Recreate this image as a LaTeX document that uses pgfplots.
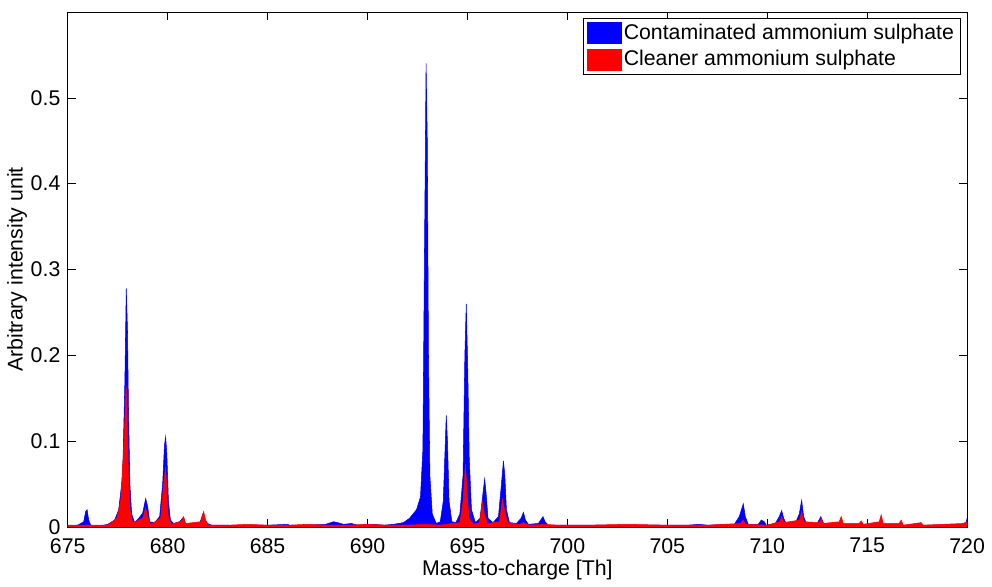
\documentclass[border=0pt]{standalone}
\usepackage{pgfplots}
\pgfplotsset{compat=1.18}
\usepackage{fontspec}
\setmainfont{Liberation Sans}
\pgfplotstableread{
x y
675.0 0.001
675.5 0.002
675.8 0.006
675.9 0.018
675.97 0.020
676.05 0.008
676.15 0.002
676.6 0.001
677.0 0.003
677.35 0.008
677.55 0.020
677.75 0.060
677.86 0.170
677.93 0.278
677.99 0.230
678.04 0.140
678.11 0.050
678.2 0.015
678.35 0.005
678.55 0.010
678.75 0.016
678.9 0.033
679.0 0.024
679.1 0.006
679.35 0.005
679.6 0.012
679.75 0.050
679.84 0.095
679.9 0.105
679.96 0.085
680.04 0.030
680.14 0.008
680.3 0.004
680.6 0.006
680.78 0.011
680.88 0.004
681.2 0.002
681.6 0.004
681.78 0.016
681.88 0.005
682.2 0.002
683.0 0.002
683.6 0.001
684.2 0.002
685.0 0.002
686.0 0.003
686.2 0.001
687.0 0.002
687.9 0.003
688.3 0.006
688.5 0.005
688.8 0.003
689.2 0.004
689.5 0.002
690.3 0.003
690.8 0.002
691.3 0.003
691.8 0.005
692.1 0.010
692.45 0.020
692.65 0.035
692.77 0.090
692.85 0.320
692.93 0.540
692.99 0.450
693.05 0.200
693.12 0.060
693.24 0.015
693.44 0.004
693.64 0.006
693.79 0.030
693.88 0.090
693.94 0.130
694.0 0.100
694.08 0.030
694.22 0.006
694.42 0.005
694.62 0.015
694.78 0.060
694.87 0.200
694.94 0.260
695.01 0.190
695.09 0.080
695.2 0.020
695.4 0.005
695.63 0.010
695.78 0.040
695.86 0.056
695.93 0.040
696.03 0.010
696.28 0.005
696.55 0.012
696.7 0.050
696.8 0.077
696.87 0.060
696.95 0.020
697.1 0.005
697.45 0.004
697.68 0.010
697.8 0.017
697.9 0.008
698.05 0.003
698.55 0.004
698.78 0.012
698.88 0.006
699.05 0.002
700.0 0.002
701.5 0.002
703.0 0.002
704.5 0.002
706.0 0.002
706.6 0.003
707.0 0.002
708.35 0.003
708.6 0.012
708.8 0.027
708.9 0.012
709.05 0.003
709.55 0.003
709.7 0.008
709.85 0.006
709.95 0.002
710.4 0.004
710.6 0.012
710.72 0.019
710.82 0.010
710.97 0.003
711.4 0.004
711.6 0.015
711.72 0.031
711.82 0.012
711.97 0.003
712.5 0.004
712.68 0.012
712.82 0.004
713.0 0.002
714.0 0.002
716.0 0.002
718.0 0.002
719.9 0.002
720.0 0.010
}\contaminated
\pgfplotstableread{
x y
675.0 0.002
676.0 0.002
677.0 0.002
677.45 0.010
677.65 0.030
677.82 0.100
677.92 0.165
677.97 0.140
678.04 0.060
678.12 0.020
678.25 0.005
678.75 0.010
678.9 0.022
679.0 0.012
679.15 0.003
679.65 0.010
679.8 0.050
679.9 0.070
679.96 0.040
680.04 0.010
680.2 0.003
680.7 0.007
680.8 0.012
680.9 0.004
681.65 0.006
681.8 0.018
681.9 0.008
682.05 0.002
683.0 0.002
684.0 0.003
685.0 0.002
686.0 0.002
687.0 0.003
688.0 0.002
689.0 0.002
690.0 0.003
691.0 0.002
692.0 0.002
692.9 0.003
693.6 0.002
694.62 0.005
694.78 0.030
694.9 0.073
694.98 0.040
695.08 0.010
695.3 0.003
695.6 0.005
695.75 0.029
695.85 0.015
696.0 0.004
696.6 0.006
696.75 0.032
696.85 0.020
697.0 0.005
697.6 0.003
697.8 0.005
698.1 0.002
698.85 0.003
699.5 0.002
701.0 0.002
703.0 0.003
705.0 0.002
707.0 0.002
708.65 0.004
708.8 0.008
708.9 0.003
710.0 0.002
710.62 0.006
710.72 0.012
710.82 0.005
711.62 0.008
711.72 0.018
711.82 0.006
712.6 0.005
712.7 0.010
712.8 0.004
713.6 0.006
713.7 0.012
713.8 0.004
714.6 0.004
714.7 0.007
714.8 0.003
715.6 0.006
715.7 0.014
715.8 0.004
716.6 0.004
716.7 0.008
716.8 0.002
717.7 0.005
717.8 0.002
719.8 0.004
720.0 0.006
}\cleaner

\begin{document}
\fontsize{16}{19}\selectfont
\begin{tikzpicture}
\begin{axis}[
    scale only axis,
    width=676pt, height=387pt,
    xmin=675, xmax=720,
    ymin=0, ymax=0.6,
    xtick={675,680,...,720},
    ytick={0,0.1,...,0.5},
    yticklabels={0,0.1,0.2,0.3,0.4,0.5},
    tick align=inside,
    major tick length=6pt,
    tick style={black, thin},
    axis line style={black, thin},
    /pgf/number format/assume math mode=true,
    /pgf/number format/1000 sep={},
    tick label style={font=\fontsize{16}{19}\selectfont},
    xticklabel style={yshift=-3pt},
    label style={font=\fontsize{16}{19}\selectfont},
    xlabel={Mass-to-charge [Th]},
    ylabel={Arbitrary intensity unit},
    xlabel style={yshift=6pt},
    ylabel style={yshift=-8pt},
    legend cell align=left,
    legend style={at={(0.993,0.988)}, anchor=north east, draw=black, thin,
        font=\fontsize{16}{19}\selectfont, inner xsep=3pt, inner ysep=2pt,
        row sep=2pt},
    legend image code/.code={\fill[#1] (0pt,-8pt) rectangle (25pt,8pt);},
]
\addplot[draw=blue, fill=blue, line width=0.4pt] table {\contaminated} \closedcycle;
\addlegendentry{Contaminated ammonium sulphate}
\addplot[draw=red, fill=red, line width=0.4pt] table {\cleaner} \closedcycle;
\addlegendentry{Cleaner ammonium sulphate}
\end{axis}
\path (0,396pt);
\end{tikzpicture}
\end{document}
